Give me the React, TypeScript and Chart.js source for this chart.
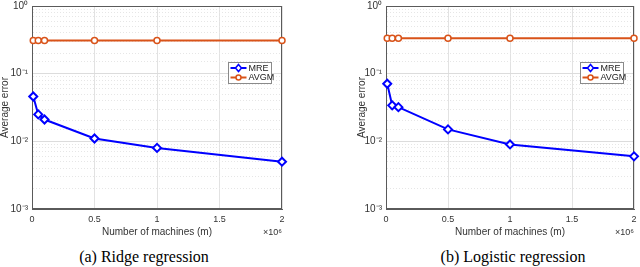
import React, { useEffect, useRef } from "react";
import { Chart, registerables } from "chart.js";

Chart.register(...registerables);

// ---- data ----
const MACHINES = [10000, 50000, 100000, 500000, 1000000, 2000000];
const RIDGE_MRE = [0.046, 0.025, 0.021, 0.011, 0.008, 0.005];
const RIDGE_AVGM = [0.31, 0.31, 0.31, 0.31, 0.31, 0.31];
const LOGISTIC_MRE = [0.071, 0.034, 0.032, 0.015, 0.009, 0.006];
const LOGISTIC_AVGM = [0.335, 0.335, 0.335, 0.335, 0.335, 0.335];
const X_TICKS = [0, 500000, 1000000, 1500000, 2000000];
const X_TICK_LABELS = ["0", "0.5", "1", "1.5", "2"];
const Y_DECADES = [1, 0.1, 0.01, 0.001];
const Y_TICK_LABELS = ["10\u2070", "10\u207B\u00B9", "10\u207B\u00B2", "10\u207B\u00B3"];
const SERIES_NAMES = ["MRE", "AVGM"];
const CAPTIONS = ["(a) Ridge regression", "(b) Logistic regression"];

const SANS = "'Liberation Sans', Arial, Helvetica, sans-serif";
const BLUE = "#0000FF";
const ORANGE = "#D95319";

const isMajor = (v: number) => {
  const l = Math.log10(v);
  return Math.abs(l - Math.round(l)) < 1e-6;
};

const boxPlugin = {
  id: "boxPlugin",
  beforeDatasetsDraw(chart: any) {
    const { ctx, chartArea: a } = chart;
    ctx.save();
    ctx.strokeStyle = "#5a5a5a";
    ctx.lineWidth = 1;
    ctx.strokeRect(Math.round(a.left) + 0.5, Math.round(a.top) + 0.5, Math.round(a.right - a.left) - 1, Math.round(a.bottom - a.top) - 1);
    ctx.restore();
  },
  afterDraw(chart: any) {
    const { ctx, chartArea: a } = chart;
    ctx.save();
    // x10^6 exponent label
    ctx.fillStyle = "#333";
    ctx.font = `9px ${SANS}`;
    ctx.textAlign = "right";
    ctx.textBaseline = "alphabetic";
    ctx.fillText("\u00D710\u2076", a.right, 235);
    // legend
    const w = 43, h = 21;
    const x = Math.round(a.right - 11 - w) + 0.5;
    const y = Math.round(a.top + 56) + 0.5;
    ctx.fillStyle = "#fff";
    ctx.fillRect(x, y, w, h);
    ctx.strokeStyle = "#8a8a8a";
    ctx.lineWidth = 1;
    ctx.strokeRect(x, y, w, h);
    chart.data.datasets.forEach((ds: any, i: number) => {
      const cy = y + 5.5 + i * 9.5;
      ctx.strokeStyle = ds.borderColor;
      ctx.lineWidth = 2;
      ctx.beginPath();
      ctx.moveTo(x + 2, cy);
      ctx.lineTo(x + 18, cy);
      ctx.stroke();
      ctx.lineWidth = 1.5;
      ctx.fillStyle = "#fff";
      ctx.beginPath();
      if (ds.pointStyle === "rectRot") {
        ctx.moveTo(x + 10, cy - 3.5);
        ctx.lineTo(x + 13, cy);
        ctx.lineTo(x + 10, cy + 3.5);
        ctx.lineTo(x + 7, cy);
        ctx.closePath();
      } else {
        ctx.arc(x + 10, cy, 2.5, 0, Math.PI * 2);
      }
      ctx.fill();
      ctx.stroke();
      ctx.fillStyle = "#222";
      ctx.font = `9px ${SANS}`;
      ctx.textAlign = "left";
      ctx.textBaseline = "middle";
      ctx.fillText(ds.label, x + 20, cy + 0.5);
    });
    ctx.restore();
  },
};

function Panel(props: { mre: number[]; avgm: number[]; left: number; padRight: number; yAxisWidth: number; yTitlePad: number }) {
  const ref = useRef<HTMLCanvasElement | null>(null);
  useEffect(() => {
    const canvas = ref.current;
    if (!canvas) return;
    const chart = new Chart(canvas, {
      type: "line",
      data: {
        datasets: [
          {
            label: SERIES_NAMES[0],
            data: MACHINES.map((x, i) => ({ x, y: props.mre[i] })),
            borderColor: BLUE,
            backgroundColor: BLUE,
            borderWidth: 2,
            pointStyle: "rectRot",
            pointRadius: 4,
            pointBorderWidth: 2,
            pointBackgroundColor: "#fff",
            pointBorderColor: BLUE,
            clip: false as any,
          },
          {
            label: SERIES_NAMES[1],
            data: MACHINES.map((x, i) => ({ x, y: props.avgm[i] })),
            borderColor: ORANGE,
            backgroundColor: ORANGE,
            borderWidth: 2,
            pointStyle: "circle",
            pointRadius: 3,
            pointBorderWidth: 1.5,
            pointBackgroundColor: "#fff",
            pointBorderColor: ORANGE,
            clip: false as any,
          },
        ],
      },
      options: {
        animation: false,
        responsive: false,
        devicePixelRatio: 1,
        layout: { padding: { left: 0, right: props.padRight, top: 5, bottom: 0 } },
        plugins: { legend: { display: false }, tooltip: { enabled: false } },
        scales: {
          x: {
            type: "linear",
            min: 0,
            max: 2000000,
            afterBuildTicks: (scale: any) => {
              scale.ticks = X_TICKS.map((v) => ({ value: v }));
            },
            afterFit: (scale: any) => {
              scale.height = 31;
              scale.paddingLeft = 0;
              scale.paddingRight = 0;
            },
            ticks: {
              callback: (_v: any, i: number) => X_TICK_LABELS[i],
              color: "#333",
              font: { family: SANS, size: 9, lineHeight: 1 },
              padding: 6,
              maxRotation: 0,
              autoSkip: false,
            },
            grid: { color: "#e2e2e2", lineWidth: 1, drawTicks: false },
            border: { display: true, color: "#5a5a5a", width: 1 },
            title: {
              display: true,
              text: "Number of machines (m)",
              color: "#333",
              font: { family: SANS, size: 10, lineHeight: 1.2 },
              padding: { top: 0, bottom: 2 },
            },
          },
          y: {
            type: "logarithmic",
            min: 0.001,
            max: 1,
            afterFit: (scale: any) => {
              scale.width = props.yAxisWidth;
              scale.paddingTop = 0;
              scale.paddingBottom = 0;
            },
            ticks: {
              callback: (v: any) => {
                const idx = Y_DECADES.findIndex((d) => Math.abs(Math.log10(d) - Math.log10(v)) < 1e-6);
                return idx >= 0 ? Y_TICK_LABELS[idx] : "";
              },
              color: "#333",
              font: { family: SANS, size: 10, lineHeight: 1 },
              padding: 4,
              autoSkip: false,
            },
            grid: {
              color: (c: any) => (c.tick && !isMajor(c.tick.value) ? "#e6e6e6" : "#dcdcdc"),
              lineWidth: 1,
              drawTicks: false,
            },
            border: {
              display: true,
              color: "#5a5a5a",
              width: 1,
              dash: (c: any) => (c.tick && !isMajor(c.tick.value) ? [1, 2] : []),
            } as any,
            title: {
              display: true,
              text: "Average error",
              color: "#333",
              font: { family: SANS, size: 10, lineHeight: 1 },
              padding: { top: props.yTitlePad, bottom: 0 },
            },
          },
        },
      },
      plugins: [boxPlugin],
    } as any);
    return () => chart.destroy();
  }, []);
  return (
    <canvas
      ref={ref}
      width={320}
      height={240}
      style={{ position: "absolute", left: props.left, top: 0, width: 320, height: 240 }}
    />
  );
}

export default function App() {
  const captionStyle = (center: number): React.CSSProperties => ({
    position: "absolute",
    left: center - 120,
    width: 240,
    top: 249,
    textAlign: "center",
    fontFamily: "'Liberation Serif', 'Times New Roman', serif",
    fontSize: 16,
    lineHeight: "16px",
    color: "#000",
    whiteSpace: "nowrap",
  });
  return (
    <div style={{ position: "absolute", left: 0, top: 0, width: 640, height: 267, background: "#fff", overflow: "hidden" }}>
      <Panel mre={RIDGE_MRE} avgm={RIDGE_AVGM} left={0} padRight={38} yAxisWidth={32} yTitlePad={0} />
      <Panel mre={LOGISTIC_MRE} avgm={LOGISTIC_AVGM} left={320} padRight={4} yAxisWidth={66} yTitlePad={37} />
      <div style={captionStyle(144)}>{CAPTIONS[0]}</div>
      <div style={captionStyle(513)}>{CAPTIONS[1]}</div>
    </div>
  );
}
